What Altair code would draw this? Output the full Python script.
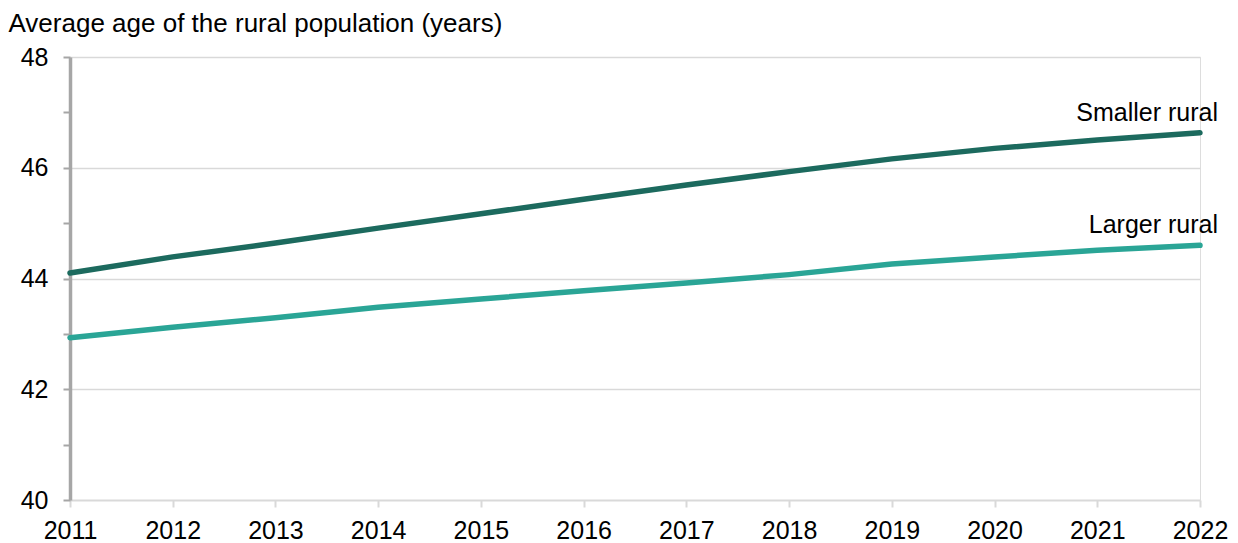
import altair as alt
import pandas as pd

years = [2011, 2012, 2013, 2014, 2015, 2016, 2017, 2018, 2019, 2020, 2021, 2022]
smaller_rural = [44.10, 44.39, 44.64, 44.91, 45.17, 45.43, 45.69, 45.93, 46.16, 46.35, 46.50, 46.63]
larger_rural = [42.93, 43.12, 43.29, 43.48, 43.63, 43.78, 43.92, 44.07, 44.26, 44.39, 44.51, 44.60]
series_names = ["Smaller rural", "Larger rural"]
series_colors = ["#1c6a5e", "#2aa596"]
y_ticks = [40, 41, 42, 43, 44, 45, 46, 47, 48]

rows = []
for y, s, l in zip(years, smaller_rural, larger_rural):
    rows.append({"year": y, "series": series_names[0], "value": s})
    rows.append({"year": y, "series": series_names[1], "value": l})
df = pd.DataFrame(rows)

labels = pd.DataFrame({
    "year": [years[-1], years[-1]],
    "series": series_names,
    "value": [smaller_rural[-1], larger_rural[-1]],
})

FONT = "Liberation Sans"

x_enc = alt.X(
    "year:Q",
    scale=alt.Scale(domain=[2011, 2022], nice=False, zero=False),
    axis=alt.Axis(
        values=years, format="d", title=None, grid=False,
        domainColor="#d9d9d9", domainWidth=2,
        tickColor="#d9d9d9", tickWidth=2, tickSize=7,
        labelFontSize=25, labelColor="#000000", labelFont=FONT,
        labelPadding=11, labelFlush=False, labelOverlap=False,
    ),
)
y_enc = alt.Y(
    "value:Q",
    scale=alt.Scale(domain=[40, 48], nice=False, zero=False),
    axis=alt.Axis(
        values=y_ticks, format="d",
        labelExpr="datum.value % 2 === 0 ? datum.label : ''",
        gridOpacity={"condition": {"test": "datum.value % 2 === 0 && datum.value > 40", "value": 1}, "value": 0},
        grid=True, gridColor="#d9d9d9", gridWidth=1.5,
        domainColor="#a6a6a6", domainWidth=3.5,
        tickColor="#a6a6a6", tickWidth=2, tickSize=7,
        labelFontSize=25, labelColor="#000000", labelFont=FONT, labelPadding=15,
        title="Average age of the rural population (years)",
        titleAngle=0, titleAlign="left", titleBaseline="alphabetic",
        titleX=-62, titleY=-26, titleFontSize=26, titleFontWeight="normal",
        titleFont=FONT, titleColor="#000000",
    ),
)

color_enc = alt.Color(
    "series:N",
    scale=alt.Scale(domain=series_names, range=series_colors),
    legend=None,
)

lines = alt.Chart(df).mark_line(strokeWidth=5.5, strokeCap="round", strokeJoin="round").encode(
    x=x_enc, y=y_enc, color=color_enc, detail="series:N"
)

text = alt.Chart(labels).mark_text(
    align="right", baseline="alphabetic", dx=18, dy=-12,
    fontSize=25, font=FONT, color="#000000",
).encode(
    x=alt.X("year:Q"), y=alt.Y("value:Q"), text="series:N"
)

chart = alt.layer(lines, text).properties(
    width=1130, height=443,
    autosize=alt.AutoSizeParams(type="none"),
    padding={"left": 62, "top": 49, "right": 30, "bottom": 48},
).configure_view(stroke=None).configure(background="#ffffff")

chart.save("out.html", embed_options={"renderer": "svg", "actions": False})
